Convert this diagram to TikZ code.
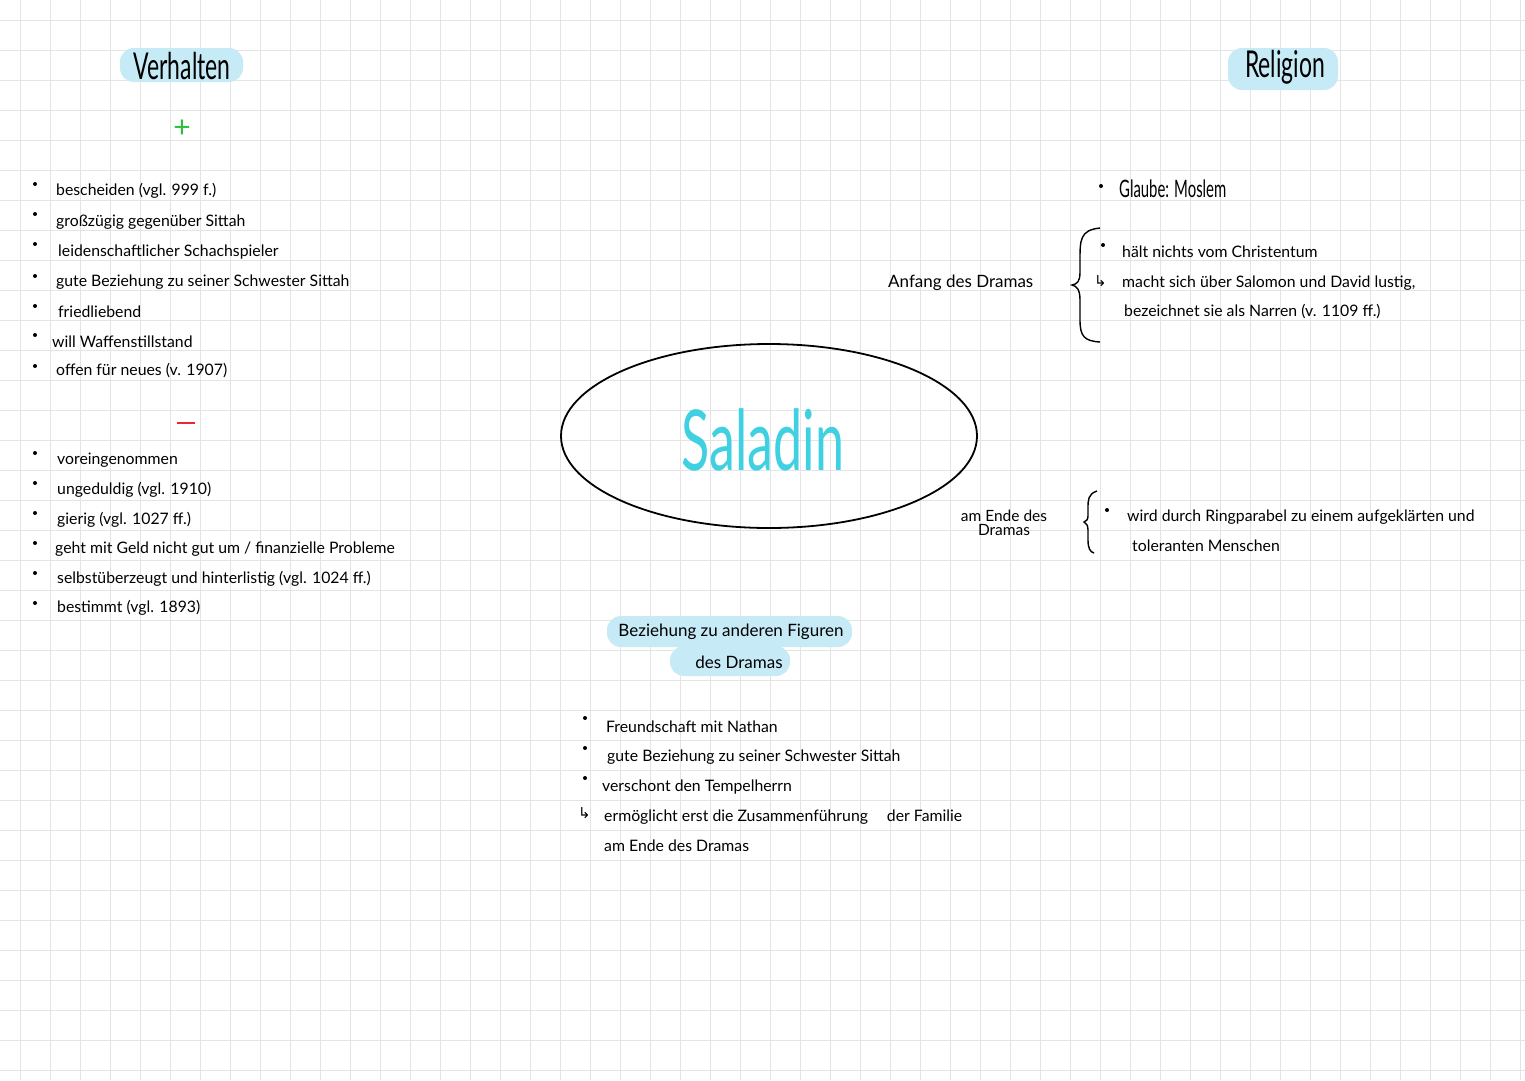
\documentclass[tikz,border=0pt]{standalone}
\usepackage{fontspec}
\usepackage{tikz}
\usetikzlibrary{shapes.geometric}
\setmainfont{Lato}
\newfontfamily\narrowfont[FakeStretch=0.62]{Lato}
\newfontfamily\symfont{DejaVu Sans}
\definecolor{gridgray}{HTML}{E4E4E4}
\definecolor{marker}{HTML}{C6EAF6}
\definecolor{saladincyan}{HTML}{3FD0E2}
\definecolor{plusgreen}{HTML}{2DBE3C}
\definecolor{minusred}{HTML}{E8283A}

\begin{document}
\begin{tikzpicture}[x=1pt,y=-1pt]
		\useasboundingbox (0,0) rectangle (1525,1080);
		\tikzstyle{gridline}=[gridgray,line width=0.8]
		\tikzstyle{pill}=[fill=marker,rounded corners=14,inner sep=0pt]
		\tikzstyle{heading}=[anchor=center,inner sep=0pt,font=\narrowfont\fontsize{37}{40}\selectfont]
		\tikzstyle{item}=[anchor=west,inner sep=0pt,font=\fontsize{15.8}{18}\selectfont]
		\tikzstyle{dot}=[circle,fill=black,inner sep=0pt,minimum size=4]
		\tikzstyle{hook}=[anchor=west,inner sep=0pt,font=\symfont\fontsize{15}{16}\selectfont]
		% squared paper
		\fill[white] (0,0) rectangle (1525,1080);
		\foreach \gx in {20,50,...,1520} \draw[gridline] (\gx,0) -- (\gx,1080);
		\foreach \gy in {20,50,...,1070} \draw[gridline] (0,\gy) -- (1525,\gy);

		% headings
		\fill[pill] (120,48) rectangle (243,82);
		\node[heading] (verhalten) at (182,66) {Verhalten};
		\fill[pill] (1228,48) rectangle (1338,90);
		\node[heading] (religion) at (1285,67) {Religion};
		\node[anchor=center,font=\fontsize{30}{30}\selectfont,plusgreen] (plus) at (182,129) {+};
		\draw[minusred,line width=2.4] (177,423) -- (195,423);

		% positive
		\foreach \by in {184,214,244,276,306,335,366} \node[dot] at (35,\by) {};
		\node[item] (p1) at (56,191) {bescheiden (vgl. 999 f.)};
		\node[item] (p2) at (56,222) {großzügig gegenüber Sittah};
		\node[item] (p3) at (58,252) {leidenschaftlicher Schachspieler};
		\node[item] (p4) at (56,282) {gute Beziehung zu seiner Schwester Sittah};
		\node[item] (p5) at (58,312) {friedliebend};
		\node[item] (p6) at (52,342) {will Waffenstillstand};
		\node[item] (p7) at (56,371) {offen für neues (v. 1907)};

		% negative
		\foreach \by in {453,483,513,543,573,603} \node[dot] at (35,\by) {};
		\node[item] (n1) at (57,460) {voreingenommen};
		\node[item] (n2) at (57,490) {ungeduldig (vgl. 1910)};
		\node[item] (n3) at (57,520) {gierig (vgl. 1027 ff.)};
		\node[item] (n4) at (55,549) {geht mit Geld nicht gut um / finanzielle Probleme};
		\node[item] (n5) at (57,579) {selbstüberzeugt und hinterlistig (vgl. 1024 ff.)};
		\node[item] (n6) at (57,608) {bestimmt (vgl. 1893)};

		% centre
		\node[draw,ellipse,line width=1.8,minimum width=416,minimum height=184] (saladin) at (769,436) {};
		\node[anchor=center,saladincyan,font=\narrowfont\fontsize{84}{84}\selectfont] (name) at (763,440) {Saladin};

		% religion
		\node[dot] at (1101,186) {};
		\node[anchor=west,inner sep=0pt,font=\narrowfont\fontsize{24}{26}\selectfont] (glaube) at (1119,189) {Glaube: Moslem};
		\node[anchor=west,inner sep=0pt,font=\fontsize{17}{19}\selectfont] (anfang) at (888,283) {Anfang des Dramas};
		\draw[line width=1.4] (1100,228) .. controls (1080,230) and (1080,240) .. (1080,260)
			-- (1080,272) .. controls (1080,282) and (1077,284) .. (1072,285)
			.. controls (1077,286) and (1080,290) .. (1080,300)
			-- (1080,320) .. controls (1080,336) and (1084,341) .. (1100,342);
		\node[dot] at (1103,245) {};
		\node[item] (r1) at (1122,252) {hält nichts vom Christentum};
		\node[hook] (h1) at (1094,281) {↳};
		\node[item] (r2) at (1122,283) {macht sich über Salomon und David lustig,};
		\node[item] (r3) at (1124,312) {bezeichnet sie als Narren (v. 1109 ff.)};

		\node[anchor=center,inner sep=0pt,align=center,font=\fontsize{15.5}{14}\selectfont] (ende) at (1004,523) {am Ende des\\Dramas};
		\draw[line width=1.4] (1097,491) .. controls (1088,494) and (1088,500) .. (1088,508)
			-- (1088,516) .. controls (1088,520) and (1086,521) .. (1084,522)
			.. controls (1086,523) and (1088,525) .. (1088,530)
			-- (1088,540) .. controls (1088,548) and (1090,552) .. (1094,553);
		\node[dot] at (1107,510) {};
		\node[item] (r4) at (1127,517) {wird durch Ringparabel zu einem aufgeklärten und};
		\node[item] (r5) at (1132,546) {toleranten Menschen};

		% relations
		\fill[pill] (607,616) rectangle (852,647);
		\fill[pill] (670,646) rectangle (790,676);
		\node[anchor=center,inner sep=0pt,font=\fontsize{17}{19}\selectfont] (bez1) at (731,632) {Beziehung zu anderen Figuren};
		\node[anchor=center,inner sep=0pt,font=\fontsize{17}{19}\selectfont] (bez2) at (739,662) {des Dramas};
		\foreach \by in {718,748,778} \node[dot] at (585,\by) {};
		\node[item] (f1) at (606,727) {Freundschaft mit Nathan};
		\node[item] (f2) at (607,757) {gute Beziehung zu seiner Schwester Sittah};
		\node[item] (f3) at (602,787) {verschont den Tempelherrn};
		\node[hook] (h2) at (578,813) {↳};
		\node[item] (f4) at (604,817) {ermöglicht erst die Zusammenführung\hspace{1.2em}der Familie};
		\node[item] (f5) at (604,846) {am Ende des Dramas};
	\end{tikzpicture}
\end{document}
